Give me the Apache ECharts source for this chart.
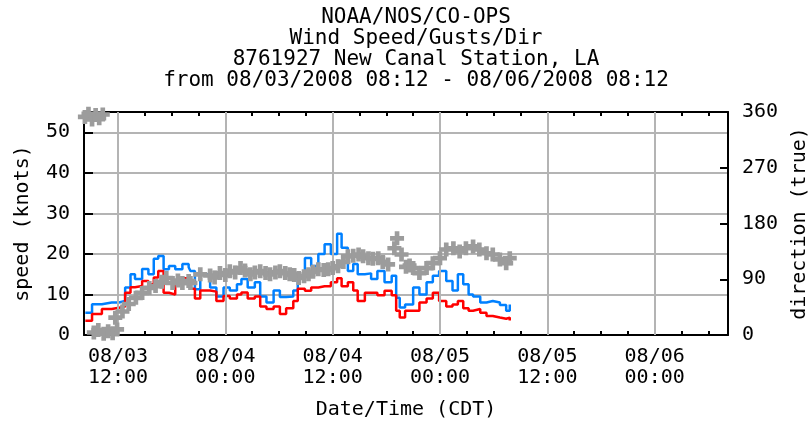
<!DOCTYPE html>
<html>
<head>
<meta charset="utf-8">
<script src="https://cdn.jsdelivr.net/npm/echarts@6/dist/echarts.min.js"></script>
<style>html,body{margin:0;padding:0;background:#fff;}#c{width:810px;height:421px;}</style>
</head>
<body>
<div id="c"></div>
<script>
// hours since 08/03/2008 00:00 CDT
const titleLines = ['NOAA/NOS/CO-OPS', 'Wind Speed/Gusts/Dir', '8761927 New Canal Station, LA', 'from 08/03/2008 08:12 - 08/06/2008 08:12'];
const xMinHour = 8.2, xMaxHour = 80.2;
const xLabelHours = [12, 24, 36, 48, 60, 72];
const xTickLabels = ['08/03\n12:00', '08/04\n00:00', '08/04\n12:00', '08/05\n00:00', '08/05\n12:00', '08/06\n00:00'];
const xMinorTickHours = [9,12,15,18,21,24,27,30,33,36,39,42,45,48,51,54,57,60,63,66,69,72,75,78];
const speedHours = [8.35,9.1,10.2,11.3,12.1,12.8,13.4,13.9,14.7,15.4,16.0,16.5,17.1,17.7,18.4,19.2,19.9,20.1,20.6,21.2,22.3,23.0,23.8,24.5,25.3,25.8,26.5,27.3,27.9,28.6,29.4,30.1,30.8,31.6,32.1,32.9,33.6,34.4,35.1,35.8,36.5,37.0,37.7,38.3,38.8,39.6,40.3,41.0,41.8,42.6,43.1,43.5,44.1,45.0,45.7,46.5,47.2,47.9,48.7,49.4,50.0,50.6,51.2,51.7,52.5,53.2,53.9,54.7,55.4,55.8];
const gustKnots = [5.5,7.6,8,8,8.4,11.7,15,13.8,16.3,15,18.8,19.5,16.2,17,16.2,17.5,16.7,15.8,11.3,15,11.7,9.5,11.7,11,12.5,13.8,11.7,13,9.5,8,11,9.4,9.5,11,14,19,17,20,22.4,20,25,21.5,15.8,17.5,15,15.2,13.8,15.8,13,14.6,9.2,6.8,7.5,11.7,10,13,14.6,15.8,13.3,11,15,12.5,10,9.5,8,8.4,8,7.4,6,7.5];
const windKnots = [3.5,5.2,6.4,6.7,7,10.4,11.8,12.1,13.3,12.5,14.2,15.8,10.4,10,13.3,14,12.9,11.4,9,11,10.7,8.4,9.6,9,10,10.5,9,9.5,7,6.4,7,5.2,6.6,8.4,11.4,10.9,11.7,12,12,13,14,12,13,11,8.4,10.4,10.4,9.8,10.9,9.8,6,4.3,6,6,8,9,10.4,8.4,7,7.5,8.4,6.6,6,6.4,5.5,4.7,4.3,4,4.3,3.6];
const dirHours = [8.3,8.7,9.1,9.5,9.9,10.3,9.3,9.8,10.4,10.9,11.4,11.9,11.7,12.5,13.2,14.0,14.7,15.5,16.2,16.9,17.4,18.1,18.7,19.2,19.9,20.1,21.2,22.3,22.8,23.4,24.0,24.5,25.1,25.7,26.2,26.8,27.3,27.9,28.5,29.0,29.6,30.1,30.7,31.2,31.7,32.2,32.8,33.3,33.8,34.4,35.0,35.5,36.0,36.6,37.2,37.7,38.3,38.9,39.4,40.0,40.5,41.1,41.6,42.2,42.9,43.2,43.7,44.2,44.6,45.0,45.7,46.5,47.2,48.0,48.7,49.5,50.2,50.9,51.7,52.4,53.2,53.9,54.7,55.4,55.8];
const dirDegrees = [352,357,348,355,350,356,4,8,2,6,3,9,28,38,50,60,68,76,79,86,92,84,88,84,87,84,98,96,93,100,97,103,101,108,104,98,101,103,100,98,101,103,100,98,97,92,95,98,102,106,105,106,108,111,118,127,128,130,127,124,123,124,118,114,140,156,130,110,112,108,100,108,116,124,138,140,135,140,143,138,132,130,122,116,124];

const FONT = 'DejaVu Sans Mono';
const txt = {fontFamily: FONT, fontSize: 20, color: '#000'};
const black = {color: '#000', width: 2};
const gridGray = '#b4b4b4';

function pairs(xs, ys) { return xs.map((x, i) => [x, ys[i]]); }

const xBase = {type: 'value', min: xMinHour, max: xMaxHour, splitLine: {show: false}};
const chart = echarts.init(document.getElementById('c'), null, {renderer: 'canvas'});
chart.setOption({
  animation: false,
  backgroundColor: '#fff',
  title: {
    text: titleLines.join('\n'), left: 411, top: 2, textAlign: 'center',
    textStyle: {fontFamily: FONT, fontSize: 21, lineHeight: 21, fontWeight: 'normal', color: '#000'}
  },
  grid: {left: 84, right: 82, top: 112, bottom: 86, containLabel: false, outerBoundsMode: 'none'},
  xAxis: [
    Object.assign({}, xBase, {
      position: 'bottom',
      axisLine: {onZero: false, lineStyle: black},
      axisTick: {inside: true, length: 4, customValues: xMinorTickHours, lineStyle: black},
      axisLabel: {customValues: xLabelHours, margin: 11, lineHeight: 21, ...txt,
        formatter: v => xTickLabels[xLabelHours.indexOf(v)] || ''},
      name: 'Date/Time (CDT)', nameLocation: 'middle', nameGap: 65, nameTextStyle: txt
    }),
    Object.assign({}, xBase, {
      position: 'bottom',
      axisLine: {show: false, onZero: false},
      axisTick: {inside: true, length: 9, customValues: xLabelHours, lineStyle: black},
      axisLabel: {show: false}
    }),
    Object.assign({}, xBase, {
      position: 'top',
      axisLine: {onZero: false, lineStyle: black},
      axisTick: {inside: true, length: 4, customValues: xMinorTickHours, lineStyle: black},
      axisLabel: {show: false}
    }),
    Object.assign({}, xBase, {
      position: 'top',
      axisLine: {show: false, onZero: false},
      axisTick: {inside: true, length: 9, customValues: xLabelHours, lineStyle: black},
      axisLabel: {show: false}
    })
  ],
  yAxis: [
    {
      type: 'value', min: 0, max: 55, interval: 10, position: 'left',
      axisLine: {show: true, onZero: false, lineStyle: black},
      axisTick: {show: true, inside: true, length: 9, lineStyle: black},
      axisLabel: {margin: 14, ...txt, formatter: v => (v > 50 ? '' : String(v))},
      splitLine: {show: true, lineStyle: {color: gridGray, width: 2}},
      name: 'speed (knots)', nameLocation: 'middle', nameRotate: 90, nameGap: 51, nameTextStyle: txt
    },
    {
      type: 'value', min: 0, max: 360, interval: 90, position: 'right',
      axisLine: {show: true, onZero: false, lineStyle: black},
      axisTick: {show: true, inside: true, length: 8, lineStyle: black},
      axisLabel: {margin: 14, ...txt},
      splitLine: {show: false},
      name: 'direction (true)', nameLocation: 'middle', nameRotate: 90, nameGap: 62, nameTextStyle: txt
    }
  ],
  series: [
    {
      type: 'line', data: [], z: 1, silent: true,
      markLine: {
        silent: true, symbol: ['none', 'none'], label: {show: false},
        lineStyle: {color: gridGray, width: 2, type: 'solid'},
        data: xLabelHours.map(h => ({xAxis: h}))
      }
    },
    {
      name: 'gust', type: 'line', step: 'end', showSymbol: false, z: 3,
      data: pairs(speedHours, gustKnots),
      lineStyle: {color: '#0080ff', width: 2.5}, itemStyle: {color: '#0080ff'}
    },
    {
      name: 'speed', type: 'line', step: 'end', showSymbol: false, z: 4,
      data: pairs(speedHours, windKnots),
      lineStyle: {color: '#ff0000', width: 2.5}, itemStyle: {color: '#ff0000'}
    },
    {
      name: 'direction', type: 'scatter', yAxisIndex: 1, z: 5,
      symbol: 'path://M4,0H8V4H12V8H8V12H4V8H0V4H4Z', symbolSize: 14,
      data: pairs(dirHours, dirDegrees),
      itemStyle: {color: '#9c9c9c', opacity: 1}
    }
  ]
});
</script>
</body>
</html>
